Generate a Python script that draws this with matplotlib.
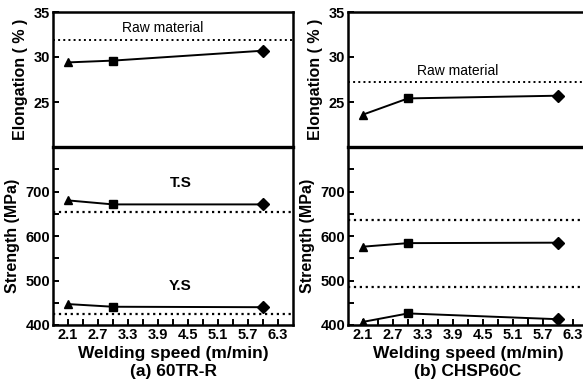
import matplotlib
matplotlib.use("Agg")
import matplotlib.pyplot as plt
import numpy as np

plt.rcParams['font.family'] = ['Liberation Sans', 'DejaVu Sans']

# welding speeds (m/min)
speed = [2.1, 3.0, 6.0]
markers = ['^', 's', 'D']

# (a) 60TR-R
elong_a = [29.4, 29.6, 30.7]
raw_elong_a = 31.9
ts_a = [680, 671, 671]
ys_a = [447, 441, 440]
raw_ts_a = 653
raw_ys_a = 425

# (b) CHSP60C
elong_b = [23.6, 25.4, 25.7]
raw_elong_b = 27.2
ts_b = [576, 584, 585]
ys_b = [407, 426, 413]
raw_ts_b = 635
raw_ys_b = 485

xtick_pos = [2.1, 2.7, 3.3, 3.9, 4.5, 5.1, 5.7, 6.3]
xtick_lab = ['2.1', '2.7', '3.3', '3.9', '4.5', '5.1', '5.7', '6.3']
panel_titles = ['(a) 60TR-R', '(b) CHSP60C']

W, H = 583, 388
fig = plt.figure(figsize=(W / 100, H / 100), dpi=100)


def px(x0, y0, x1, y1):
    return [x0 / W, 1 - y1 / H, (x1 - x0) / W, (y1 - y0) / H]


def series(ax, y):
    ax.plot(speed, y, color='black', lw=1.4, zorder=3)
    for xx, yy, m in zip(speed, y, markers):
        ax.plot(xx, yy, marker=m, color='black', ms=6, zorder=4)


def style(ax):
    for s in ax.spines.values():
        s.set_linewidth(1.8)
    ax.tick_params(direction='in', length=4, width=1.4, labelsize=10.5, pad=2)
    for t in ax.get_yticklabels() + ax.get_xticklabels():
        t.set_fontweight('bold')


panels = [
    (53, elong_a, raw_elong_a, ts_a, ys_a, raw_ts_a, raw_ys_a),
    (348, elong_b, raw_elong_b, ts_b, ys_b, raw_ts_b, raw_ys_b),
]

for k, (x0, el, raw_el, ts, ys, rts, rys) in enumerate(panels):
    x1 = x0 + 240
    # elongation
    ax1 = fig.add_axes(px(x0, 12, x1, 147))
    ax1.set_xlim(1.8, 6.6)
    ax1.set_ylim(20, 35)
    ax1.set_yticks([25, 30, 35])
    ax1.set_xticks([])
    ax1.axhline(raw_el, color='black', ls=':', lw=1.4)
    ax1.text(4.0, raw_el + 0.5, 'Raw material', ha='center', va='bottom', fontsize=10)
    series(ax1, el)
    ax1.set_ylabel('Elongation ( % )', fontsize=11.5, fontweight='bold', labelpad=4)
    style(ax1)

    # strength
    ax2 = fig.add_axes(px(x0, 147, x1, 325))
    ax2.set_xlim(1.8, 6.6)
    ax2.set_ylim(400, 800)
    ax2.set_yticks([400, 500, 600, 700])
    ax2.set_yticks([450, 550, 650, 750], minor=True)
    ax2.set_xticks(xtick_pos)
    ax2.set_xticklabels(xtick_lab)
    ax2.set_xticks(np.arange(2.1, 6.5, 0.3), minor=True)
    ax2.axhline(rts, color='black', ls=':', lw=1.6)
    ax2.axhline(rys, color='black', ls=':', lw=1.6)
    series(ax2, ts)
    series(ax2, ys)
    if k == 0:
        ax2.text(4.35, 718, 'T.S', ha='center', va='center', fontsize=11, fontweight='bold')
        ax2.text(4.35, 487, 'Y.S', ha='center', va='center', fontsize=11, fontweight='bold')
    ax2.set_ylabel('Strength (MPa)', fontsize=11.5, fontweight='bold', labelpad=4)
    ax2.set_xlabel('Welding speed (m/min)\n' + panel_titles[k], fontsize=12.5,
                   fontweight='bold', labelpad=3, linespacing=1.25)
    style(ax2)
    ax2.tick_params(which='minor', direction='in', length=4, width=1.4)
    ax2.spines['top'].set_linewidth(2.4)

fig.savefig('out.png', dpi=100)
